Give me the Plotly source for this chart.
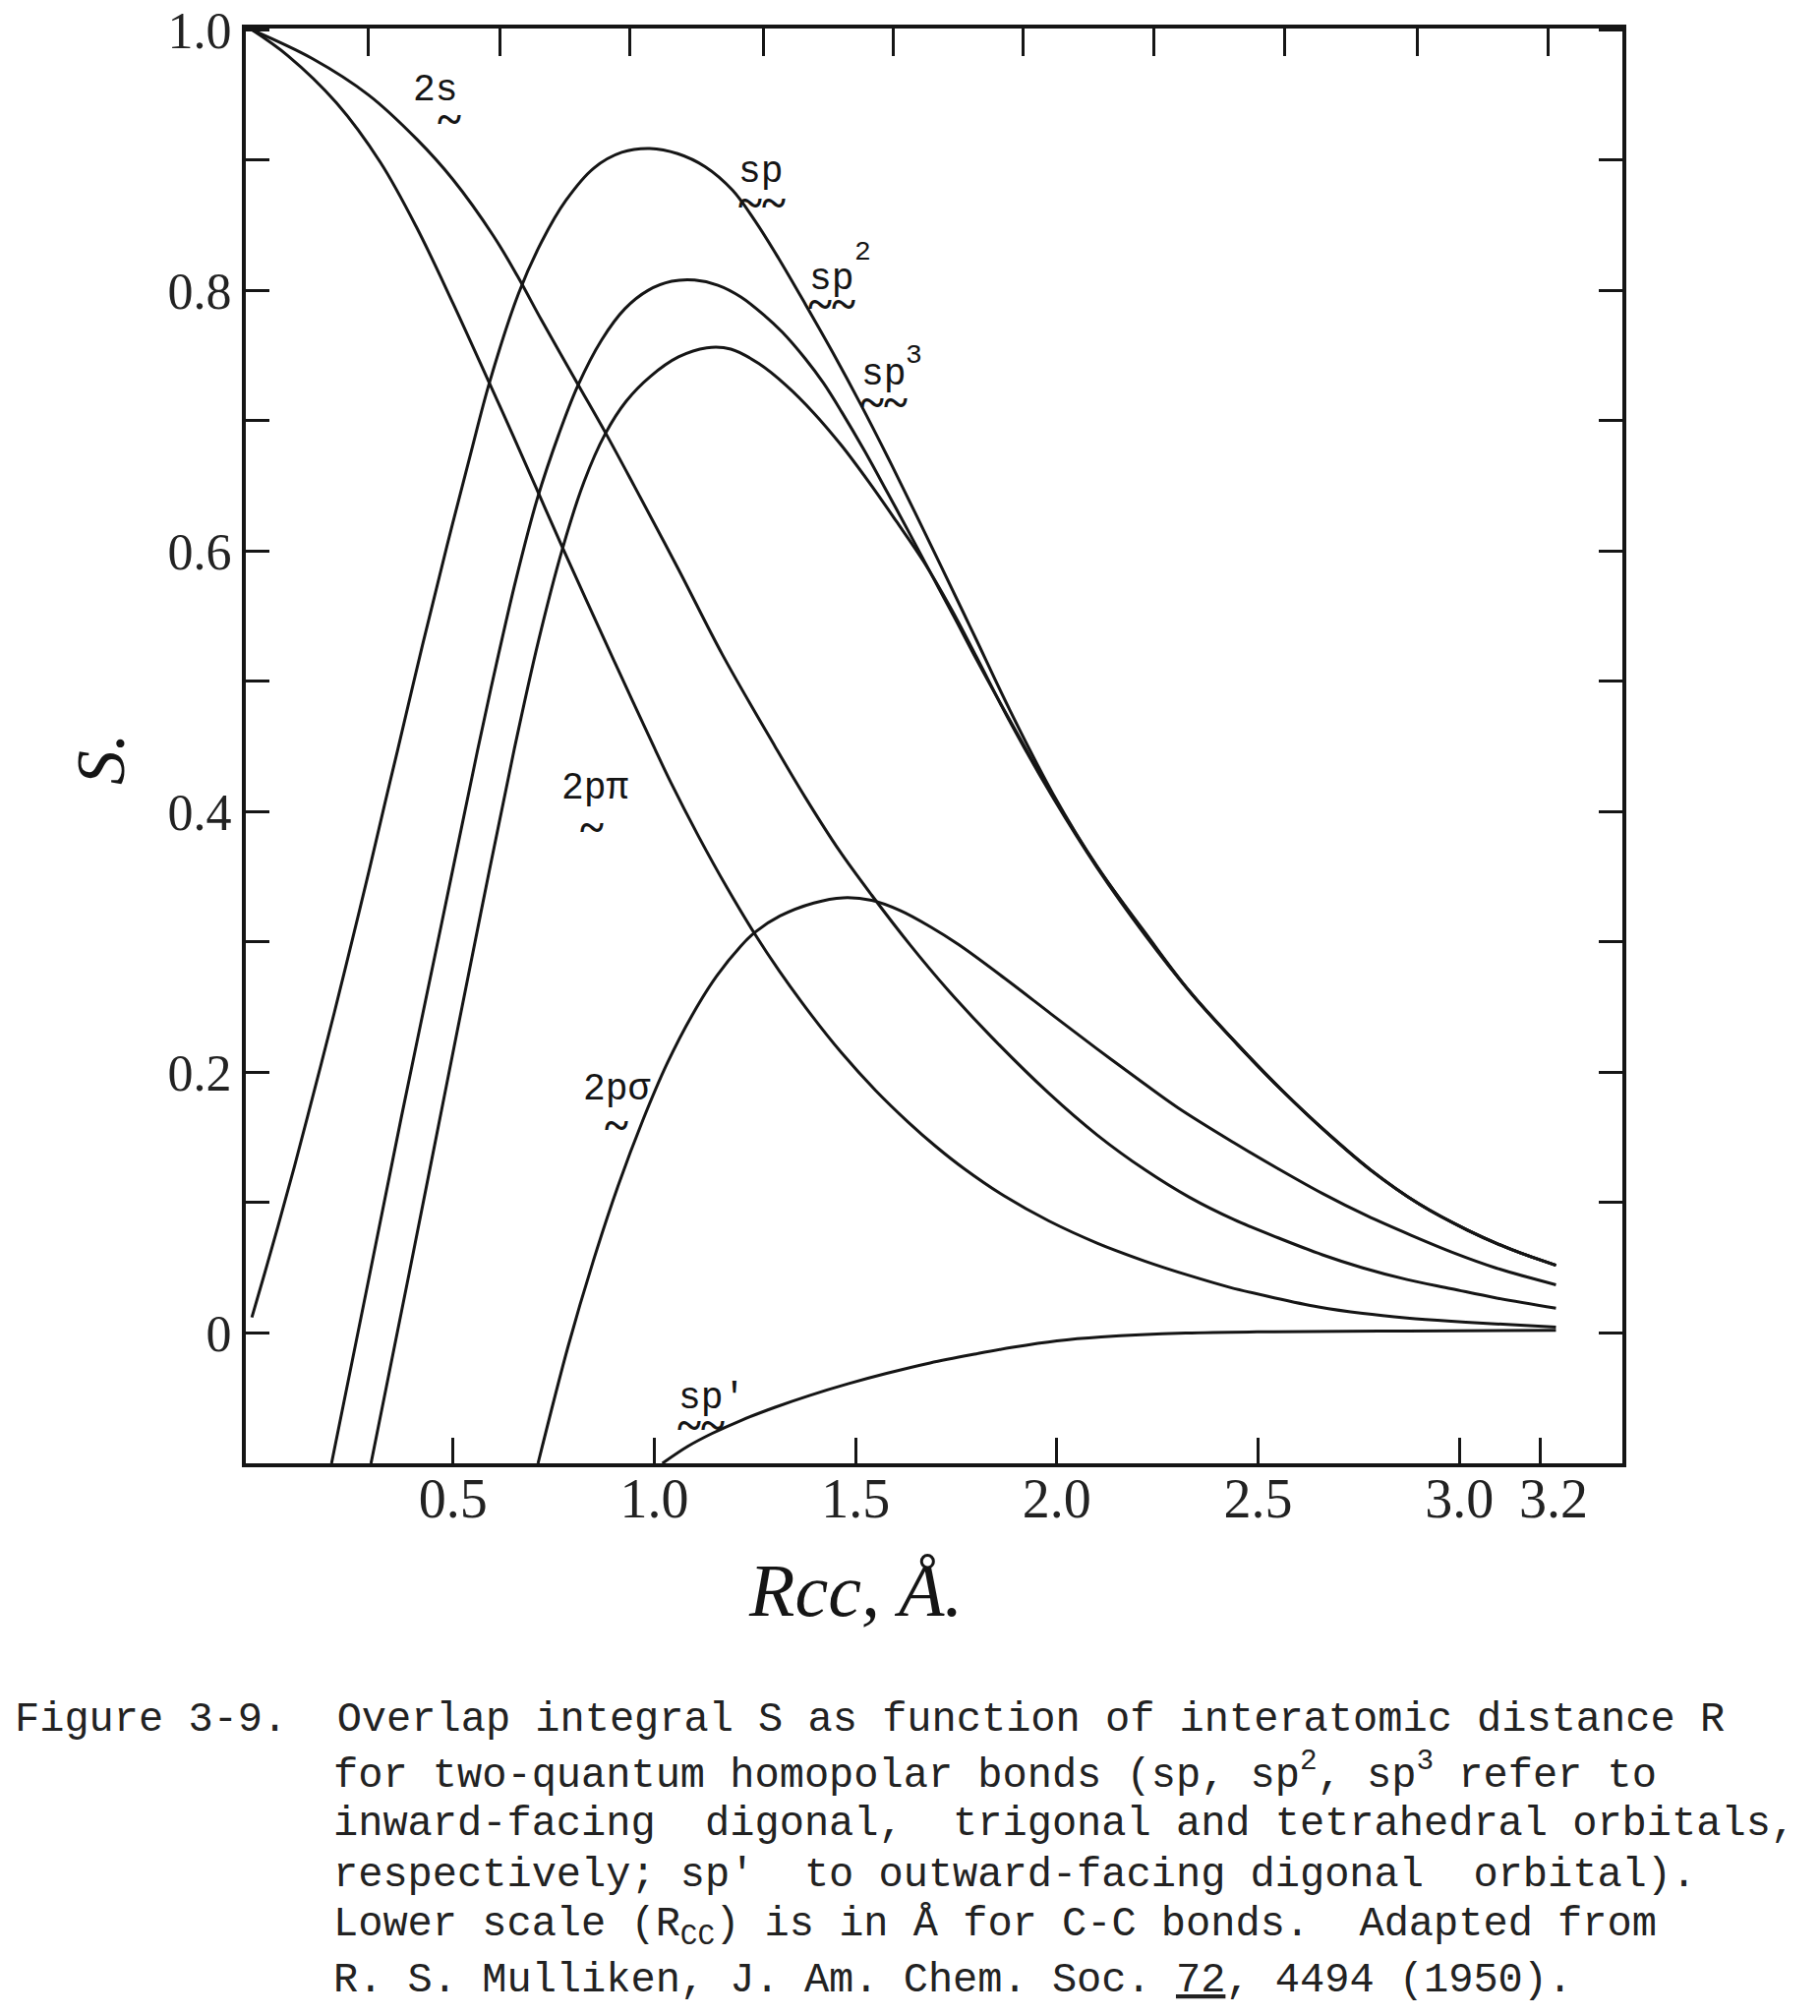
import plotly.graph_objects as go

# ---------------- data (R in Angstrom, S) ----------------
R_2s = [0.00, 0.15, 0.29, 0.41, 0.50, 0.60, 0.66, 0.72, 0.81, 0.88,
        0.95, 1.06, 1.17, 1.30, 1.375, 1.46, 1.54, 1.635, 1.73, 1.835,
        1.98, 2.10, 2.22, 2.33, 2.44, 2.55, 2.66, 2.76, 2.87, 2.98,
        3.09, 3.24]
S_2s = [1.000, 0.978, 0.950, 0.916, 0.885, 0.842, 0.811, 0.777, 0.728, 0.690,
        0.650, 0.586, 0.520, 0.450, 0.411, 0.370, 0.336, 0.298, 0.263, 0.228,
        0.184, 0.152, 0.125, 0.104, 0.087, 0.073, 0.060, 0.050, 0.041, 0.034,
        0.027, 0.019]

R_2ppi = [0.00, 0.09, 0.21, 0.32, 0.41, 0.50, 0.59, 0.65, 0.71, 0.77,
          0.83, 0.91, 1.00, 1.04, 1.11, 1.18, 1.25, 1.31, 1.39, 1.465,
          1.55, 1.63, 1.70, 1.77, 1.87, 1.98, 2.10, 2.22, 2.33, 2.43,
          2.54, 2.65, 2.76, 2.87, 2.98, 3.09, 3.24]
S_2ppi = [1.000, 0.980, 0.944, 0.898, 0.848, 0.790, 0.729, 0.688, 0.646, 0.604,
          0.563, 0.509, 0.449, 0.423, 0.381, 0.342, 0.306, 0.278, 0.244, 0.215,
          0.186, 0.162, 0.143, 0.126, 0.105, 0.086, 0.069, 0.055, 0.044, 0.035,
          0.027, 0.020, 0.015, 0.0115, 0.009, 0.007, 0.0045]

R_2psig = [0.711, 0.786, 0.848, 0.910, 0.971, 1.032, 1.094, 1.155, 1.215, 1.252,
           1.312, 1.396, 1.469, 1.540, 1.612, 1.684, 1.756, 1.871, 1.985, 2.100,
           2.214, 2.300, 2.44, 2.55, 2.66, 2.77, 2.88, 2.99, 3.09, 3.24]
S_2psig = [-0.100, -0.010, 0.055, 0.113, 0.163, 0.207, 0.244, 0.274, 0.297, 0.308,
           0.320, 0.330, 0.334, 0.332, 0.324, 0.312, 0.298, 0.272, 0.245, 0.218,
           0.192, 0.173, 0.146, 0.126, 0.107, 0.090, 0.075, 0.061, 0.050, 0.037]

# common tail where the sp, sp2 and sp3 curves run together
R_hyb_tail = [2.33, 2.45, 2.56, 2.67, 2.78, 2.90, 3.02, 3.13, 3.24]
S_hyb_tail = [0.262, 0.221, 0.186, 0.154, 0.125, 0.099, 0.079, 0.064, 0.052]

R_sp = [0.000, 0.032, 0.065, 0.106, 0.156, 0.205, 0.249, 0.293, 0.331, 0.362,
        0.424, 0.484, 0.543, 0.591, 0.663, 0.721, 0.780, 0.850, 0.919, 0.989,
        1.058, 1.126, 1.194, 1.251, 1.308, 1.376, 1.444, 1.512, 1.580, 1.647,
        1.716, 1.769, 1.80, 1.88, 1.99, 2.10, 2.22]
S_sp = [0.012, 0.046, 0.082, 0.128, 0.187, 0.246, 0.301, 0.357, 0.407, 0.447,
        0.528, 0.603, 0.674, 0.730, 0.798, 0.838, 0.869, 0.894, 0.906, 0.909,
        0.905, 0.895, 0.877, 0.853, 0.825, 0.789, 0.752, 0.713, 0.672, 0.630,
        0.586, 0.552, 0.532, 0.480, 0.414, 0.358, 0.307]

R_sp2 = [0.198, 0.283, 0.371, 0.472, 0.560, 0.608, 0.656, 0.709, 0.763, 0.810,
         0.869, 0.927, 0.984, 1.043, 1.100, 1.158, 1.215, 1.273, 1.318, 1.374,
         1.420, 1.465, 1.522, 1.579, 1.635, 1.692, 1.749, 1.80, 1.88, 1.99,
         2.10, 2.22]
S_sp2 = [-0.100, 0.030, 0.165, 0.315, 0.446, 0.514, 0.578, 0.640, 0.690, 0.727,
         0.762, 0.786, 0.800, 0.807, 0.808, 0.804, 0.795, 0.781, 0.768, 0.748,
         0.729, 0.707, 0.677, 0.645, 0.613, 0.580, 0.547, 0.517, 0.472, 0.412,
         0.358, 0.306]

R_sp3 = [0.296, 0.391, 0.479, 0.568, 0.652, 0.712, 0.771, 0.825, 0.878, 0.930,
         0.990, 1.060, 1.130, 1.190, 1.259, 1.328, 1.396, 1.465, 1.533, 1.601,
         1.669, 1.737, 1.80, 1.88, 1.99, 2.10, 2.22]
S_sp3 = [-0.100, 0.046, 0.183, 0.321, 0.448, 0.531, 0.601, 0.653, 0.690, 0.715,
         0.734, 0.749, 0.756, 0.755, 0.744, 0.727, 0.706, 0.681, 0.653, 0.623,
         0.592, 0.556, 0.519, 0.471, 0.411, 0.357, 0.305]

R_spp = [1.020, 1.083, 1.144, 1.216, 1.300, 1.385, 1.481, 1.577, 1.685, 1.800,
         1.890, 2.000, 2.110, 2.320, 2.540, 2.870, 3.240]
S_spp = [-0.100, -0.087, -0.077, -0.067, -0.057, -0.048, -0.039, -0.031, -0.023, -0.016,
         -0.011, -0.006, -0.003, 0.000, 0.001, 0.0015, 0.002]

# axis ticks
x_tick_vals = [0.5, 1.0, 1.5, 2.0, 2.5, 3.0, 3.2]
x_tick_text = ["0.5", "1.0", "1.5", "2.0", "2.5", "3.0", "\u00a0\u00a03.2"]
y_tick_vals = [0.0, 0.2, 0.4, 0.6, 0.8, 1.0]
y_tick_text = ["0", "0.2", "0.4", "0.6", "0.8", "1.0"]
y_minor_vals = [0.1, 0.3, 0.5, 0.7, 0.9]
top_tick_R = [0.290, 0.617, 0.940, 1.270, 1.593, 1.916, 2.242, 2.567, 2.895, 3.220]

caption_lines = [
    "Figure 3-9.\u00a0\u00a0Overlap integral S as function of interatomic distance R",
    "for two-quantum homopolar bonds (sp, sp<sup>2</sup>, sp<sup>3</sup> refer to",
    "inward-facing\u00a0\u00a0digonal,\u00a0\u00a0trigonal and tetrahedral orbitals,",
    "respectively; sp'\u00a0\u00a0to outward-facing digonal\u00a0\u00a0orbital).",
    "Lower scale (R<sub>CC</sub>) is in Å for C-C bonds.\u00a0\u00a0Adapted from",
    "R. S. Mulliken, J. Am. Chem. Soc. <u>72</u>, 4494 (1950).",
]

# ---------------- figure ----------------
INK = "#151515"
fig = go.Figure()

series = [
    ("2s", R_2s, S_2s),
    ("2p\u03c0", R_2ppi, S_2ppi),
    ("2p\u03c3", R_2psig, S_2psig),
    ("sp", R_sp + R_hyb_tail, S_sp + S_hyb_tail),
    ("sp2", R_sp2 + R_hyb_tail, S_sp2 + S_hyb_tail),
    ("sp3", R_sp3 + R_hyb_tail, S_sp3 + S_hyb_tail),
    ("sp'", R_spp, S_spp),
]
for name, r, s in series:
    fig.add_trace(go.Scatter(
        x=r, y=s, mode="lines", name=name, showlegend=False, hoverinfo="skip",
        line=dict(color=INK, width=3.0, shape="spline", smoothing=1.0)))

# invisible trace to carry the top (reduced-distance) tick scale
fig.add_trace(go.Scatter(x=[1.0], y=[0.5], xaxis="x2", mode="markers",
                         marker=dict(opacity=0), hoverinfo="skip", showlegend=False))

# page geometry (browser body has an 8 px margin)
W, H, OFF = 1835, 2034, 8
PL, PR, PT, PB = 250, 1650, 29, 1488   # plot frame in page pixels


def px(xp):
    return (xp - PL) / (PR - PL)


def py(yp):
    return (PB - yp) / (PB - PT)


XR = [-0.015, 3.405]
YR = [-0.100, 1.001]

fig.update_layout(
    width=W, height=H,
    margin=dict(l=PL - OFF, r=W - (PR - OFF), t=PT - OFF, b=H - (PB - OFF),
                pad=0, autoexpand=False),
    paper_bgcolor="white", plot_bgcolor="white", showlegend=False,
    xaxis=dict(range=XR, tickmode="array", tickvals=x_tick_vals, ticktext=x_tick_text,
               tickangle=0,
               ticks="inside", ticklen=26, tickwidth=3, tickcolor=INK,
               showline=True, linewidth=4, linecolor=INK, mirror=True,
               showgrid=False, zeroline=False, ticklabelstandoff=-16,
               ticklabeloverflow="allow",
               tickfont=dict(family="Liberation Serif", size=56, color="#222")),
    xaxis2=dict(range=XR, overlaying="x", side="top", anchor="y",
                tickmode="array", tickvals=top_tick_R, showticklabels=False,
                ticks="inside", ticklen=28, tickwidth=3, tickcolor=INK,
                showline=False, showgrid=False, zeroline=False),
    yaxis=dict(range=YR, tickmode="array", tickvals=y_tick_vals, ticktext=y_tick_text,
               ticks="inside", ticklen=24, tickwidth=3, tickcolor=INK,
               minor=dict(tickmode="array", tickvals=y_minor_vals, ticks="inside",
                          ticklen=24, tickwidth=3, tickcolor=INK, showgrid=False),
               showline=True, linewidth=4, linecolor=INK, mirror="ticks",
               showgrid=False, zeroline=False, ticklabelstandoff=0,
               ticklabeloverflow="allow",
               tickfont=dict(family="Liberation Serif", size=52, color="#222")),
)

ann = []
LABF = "Liberation Mono"


def lab(text, x, y, size=38, family=LABF, bold=False):
    ann.append(dict(text=f"<b>{text}</b>" if bold else text, x=x, y=y,
                    xref="x", yref="y", showarrow=False,
                    xanchor="center", yanchor="middle",
                    font=dict(family=family, size=size, color=INK)))


def tilde(text, x, y):
    lab(text, x, y, size=46, family="Liberation Serif", bold=True)


# curve labels with the typewriter "~" underscore marks
lab("2s", 0.456, 0.954); tilde("~", 0.491, 0.931)
lab("sp", 1.266, 0.891); tilde("~~", 1.267, 0.867)
lab("sp", 1.442, 0.809); lab("2", 1.517, 0.829, 28); tilde("~~", 1.441, 0.789)
lab("sp", 1.571, 0.736); lab("3", 1.645, 0.750, 28); tilde("~~", 1.570, 0.714)
lab("2p\u03c0", 0.851, 0.418); tilde("~", 0.845, 0.388)
lab("2p\u03c3", 0.908, 0.187); tilde("~", 0.906, 0.159)
lab("sp'", 1.143, -0.050); tilde("~~", 1.116, -0.071)

# axis titles
ann.append(dict(text="Rcc, Å.", x=px(870), y=py(1617), xref="paper", yref="paper",
                showarrow=False, xanchor="center", yanchor="middle",
                font=dict(family="Liberation Serif", size=76, color=INK, style="italic")))
ann.append(dict(text="S.", x=px(102), y=py(772), xref="paper", yref="paper",
                showarrow=False, xanchor="center", yanchor="middle", textangle=-90,
                font=dict(family="Liberation Serif", size=70, color=INK, style="italic")))

# caption
cap_x = [13, 337, 337, 337, 337, 337]
cap_y = [1749, 1802, 1855, 1907, 1959, 2014]
for t, cx, cy in zip(caption_lines, cap_x, cap_y):
    ann.append(dict(text=t, x=px(cx), y=py(cy), xref="paper", yref="paper",
                    showarrow=False, xanchor="left", yanchor="middle", align="left",
                    font=dict(family=LABF, size=42, color="#222")))

fig.update_layout(annotations=ann)
fig.write_html("out.html")
